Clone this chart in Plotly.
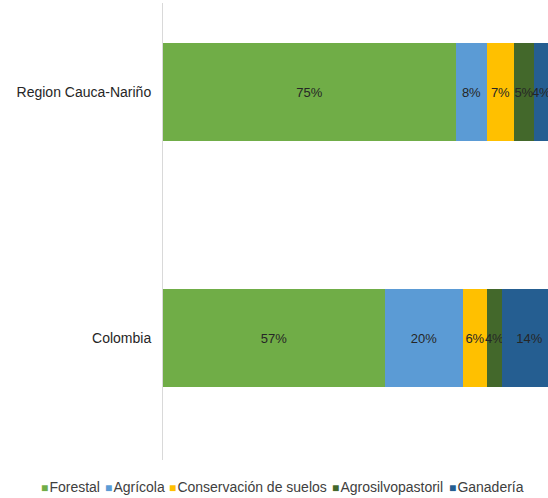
import plotly.graph_objects as go

# data
categories = ["Colombia", "Region Cauca-Nariño"]
series_names = ["Forestal", "Agrícola", "Conservación de suelos", "Agrosilvopastoril", "Ganadería"]
forestal = [57, 75]
agricola = [20, 8]
conservacion = [6, 7]
agrosilvopastoril = [4, 5]
ganaderia = [14, 4]
colors = ["#70AD47", "#5B9BD5", "#FFC000", "#43682B", "#255E91"]

values = [forestal, agricola, conservacion, agrosilvopastoril, ganaderia]

# left edge (px) of each legend entry along the bottom row
legend_px = [42, 106, 170, 333, 450]

fig = go.Figure()

for name, vals, color in zip(series_names, values, colors):
    fig.add_trace(
        go.Bar(
            y=categories,
            x=vals,
            name=name,
            orientation="h",
            marker=dict(color=color, line=dict(width=0)),
            width=0.4,
            text=[f"{v}%" for v in vals],
            textposition="inside",
            insidetextanchor="middle",
            textangle=0,
            textfont=dict(color="#262626", size=13),
            showlegend=False,
        )
    )

# legend entries: small coloured square + label, one legend per series
legend_layouts = {}
for i, (name, color, px) in enumerate(zip(series_names, colors, legend_px)):
    key = "legend" if i == 0 else f"legend{i + 1}"
    fig.add_trace(
        go.Scatter(
            x=[None],
            y=[None],
            mode="markers",
            marker=dict(color="rgba(0,0,0,0)", size=1),
            name=(
                f'<span style="color:{color};font-size:12px">■</span>'
                f'<span style="font-size:4px"> </span>{name}'
            ),
            legend=key,
            showlegend=True,
            hoverinfo="skip",
        )
    )
    legend_layouts[key] = dict(
        visible=True,
        xref="container",
        yref="container",
        x=(px - 41) / 548,
        xanchor="left",
        y=(498 - 487) / 498,
        yanchor="middle",
        bgcolor="rgba(0,0,0,0)",
        borderwidth=0,
        font=dict(size=14, color="#404040"),
    )

fig.update_layout(
    width=548,
    height=498,
    barmode="stack",
    bargap=0,
    showlegend=True,
    plot_bgcolor="white",
    paper_bgcolor="white",
    font=dict(family="Liberation Sans, Arial, sans-serif", size=13, color="#262626"),
    margin=dict(l=163, r=0, t=3, b=38, autoexpand=False),
    uniformtext=dict(minsize=13, mode="show"),
    **legend_layouts,
)

fig.update_xaxes(
    range=[0, 98.7],
    showticklabels=False,
    showgrid=False,
    zeroline=False,
    showline=False,
)
fig.update_yaxes(
    type="category",
    range=[-0.496, 1.362],
    showline=True,
    linecolor="#D9D9D9",
    linewidth=1,
    ticks="",
    ticklabelstandoff=8,
    tickfont=dict(size=14, color="#262626"),
)

fig.write_html(
    "out.html",
    config={"displayModeBar": False},
    post_script="document.body.style.margin='0px';",
)
